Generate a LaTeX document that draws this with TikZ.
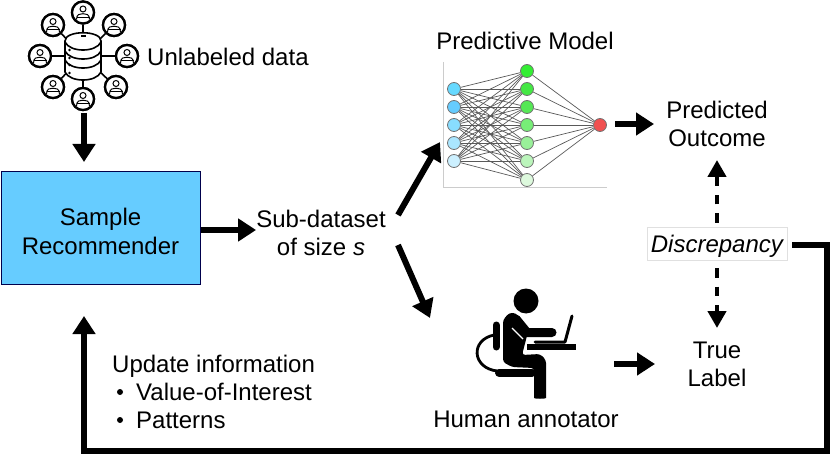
\documentclass[tikz,border=0pt]{standalone}
\usepackage{fontspec}
\setmainfont{Liberation Sans}
\usetikzlibrary{arrows.meta,calc}
\definecolor{boxblue}{HTML}{66CCFF}
\tikzset{
  x=1pt,y=-1pt,
  lbl/.style={font=\fontsize{24}{28}\selectfont,align=center,inner sep=0pt},
  lblleft/.style={font=\fontsize{24}{28}\selectfont,anchor=base west,inner sep=0pt},
  bigarrow/.style={line width=6pt,-{Triangle[length=18pt,width=22pt]}},
  dasharrow/.style={line width=4.7pt,dash pattern=on 9.3pt off 9pt,-{Triangle[length=17pt,width=18pt]}},
  feedback/.style={line width=6pt,-{Triangle[length=18pt,width=22pt]},miter limit=10},
  nn/.style={circle,draw=black!55,line width=0.8pt,minimum size=13pt,inner sep=0pt},
  nnedge/.style={draw=black!65,line width=0.7pt},
  ring/.style={circle,draw=black,line width=2.3pt,fill=white,minimum size=22pt,inner sep=0pt},
  spoke/.style={line width=1.6pt},
  dbline/.style={line width=1.6pt},
  human/.style={line cap=round,line join=round,draw=black},
  pics/userface/.style={code={
    \draw[line width=1pt] (0,-3.5) circle (3pt);
    \draw[line width=1pt] (-6.5,7) .. controls (-6.5,1.5) and (-3,1.2) .. (0,1.2) .. controls (3,1.2) and (6.5,1.5) .. (6.5,7);
    \draw[line width=1pt] (-6.5,5) -- (6.5,5);
  }}
}
\newcommand{\dbband}[1]{\draw[dbline] (65,#1-8) .. controls (70,#1+2.7) and (96,#1+2.7) .. (101,#1-8);}
\begin{document}
\begin{tikzpicture}
\useasboundingbox (0,0) rectangle (830,457);

% data icon
\node[inner sep=0pt,minimum size=0pt] (db) at (83,56) {};
\foreach \n/\px/\py in {a/83/12.5,b/53/25,c/114/25,d/40/56,e/127/56,f/53/87,g/116/87,h/83/99}{
  \node[ring] (u\n) at (\px,\py) {};
  \draw[spoke] (u\n) -- (db);
  \node[ring] at (\px,\py) {};
  \pic at (\px,\py) {userface};
}
\filldraw[dbline,fill=white] (65,41) .. controls (65,30) and (101,30) .. (101,41) -- (101,72) .. controls (96,82.7) and (70,82.7) .. (65,72) -- cycle;
\dbband{50}
\dbband{59}
\dbband{68}
\draw[line width=1.2pt] (81,36) -- (86,36);
\foreach \yy in {50,58,65,73}{ \fill (69.5,\yy) circle (1.4pt); }
\node[lblleft] (unl) at (147,66) {Unlabeled data};

% recommender
\node[draw=black!70!blue,line width=1pt,fill=boxblue,minimum width=199pt,minimum height=112pt,inner sep=0pt] (rec) at (100.5,228) {};
\node[lbl] (rectxt) at (100.5,231.5) {Sample\\[1pt]Recommender};
\coordinate (dbout) at (84,113);
\coordinate (dbin) at (84,162);
\draw[bigarrow] (dbout) -- (dbin);
\coordinate (recin) at (84,316);

% sub-dataset
\node[lbl] (sub) at (321,233) {Sub-dataset\\of size \textit{s}};
\draw[bigarrow] (rec.east |- 0,230) -- (sub.west |- 0,230);
\coordinate (subup) at (398,215);
\coordinate (subdown) at (398,245);
\coordinate (nnin) at (440,142);
\coordinate (humanin) at (430,318);
\draw[bigarrow] (subup) -- (nnin);
\draw[bigarrow] (subdown) -- (humanin);

% network
\node[lbl] (pm) at (525,41) {Predictive Model};
\draw[black!20,line width=0.8pt] (443,62) -- (443,187) -- (607,187);
\foreach \i/\yy/\cc in {1/89/66D9FF,2/107/66CCFF,3/125/88DDFF,4/143/AAE6FF,5/161/CCF0FF}{
  \definecolor{nncol}{HTML}{\cc}
  \node[nn,fill=nncol] (i\i) at (454,\yy) {};
}
\foreach \i/\yy/\cc in {1/71/33EE33,2/89/44E844,3/107/55E855,4/125/77EE77,5/143/99F099,6/161/BBF5BB,7/180/DDF9DD}{
  \definecolor{nncol}{HTML}{\cc}
  \node[nn,fill=nncol] (h\i) at (527,\yy) {};
}
\definecolor{nncol}{HTML}{F05050}
\node[nn,fill=nncol] (o) at (600,125) {};
\foreach \i in {1,...,5}{\foreach \j in {1,...,7}{\draw[nnedge] (i\i) -- (h\j);}}
\foreach \j in {1,...,7}{\draw[nnedge] (h\j) -- (o);}

% outcome
\node[lbl] (pred) at (717,124) {Predicted\\Outcome};
\coordinate (nnout) at (615,124);
\draw[bigarrow] (nnout) -- (654,124);

% discrepancy
\node[draw=black!12,line width=0.8pt,minimum width=140pt,minimum height=33pt,inner sep=0pt] (disc) at (717,243.5) {};
\node[lbl] (disctxt) at (717.5,246) {\textit{Discrepancy}};
\node[lbl] (true) at (717,364) {True\\Label};
\coordinate (dtop) at (717,160);
\coordinate (dbot) at (717,328);
\draw[dasharrow] ($(disc.north)+(0,-4)$) -- (dtop);
\draw[dasharrow] ($(disc.south)+(0,8)$) -- (dbot);

% feedback
\coordinate (c0) at (792,245);
\coordinate (c1) at (826.5,245);
\coordinate (c2) at (826.5,451);
\coordinate (c3) at (84,451);
\draw[feedback] (c0) -- (c1) -- (c2) -- (c3) -- (recin);

% human
\fill (526,301) circle (12.5pt);
\fill[rounded corners=3pt] (503,320) -- (509,313) -- (516,313) -- (528,332) -- (522,355) -- (540,354) -- (546,360) -- (546,395) .. controls (546,399) and (534,399) .. (534,395) -- (534,368) -- (512,367) -- (503,362) -- cycle;
\draw[human,line width=9pt] (516,319) -- (527,332.5) -- (552,332.5);
\draw[white,line width=1.2pt] (512,328) -- (523,339);
\draw[human,line width=7pt] (496,325) -- (496,347);
\draw[line width=2.8pt] (494,335) .. controls (470,340) and (472,368) .. (497,371);
\draw[human,line width=8pt] (499,372.5) -- (532,372.5);
\draw[human,line width=3pt] (535,342) -- (565,342) -- (572,316);
\draw[line width=6pt,line cap=butt] (527,346.8) -- (576,346.8);
\coordinate (humout) at (614,364);
\draw[bigarrow] (humout) -- (655,364);
\node[lbl] (hum) at (526,419) {Human annotator};

% update info
\node[lblleft] (upd) at (112,372) {Update information};
\node[lblleft] (v) at (136,400) {Value-of-Interest};
\node[lblleft] (p) at (136,428) {Patterns};
\fill (120,392) circle (3pt);
\fill (120,420) circle (3pt);
\end{tikzpicture}
\end{document}
